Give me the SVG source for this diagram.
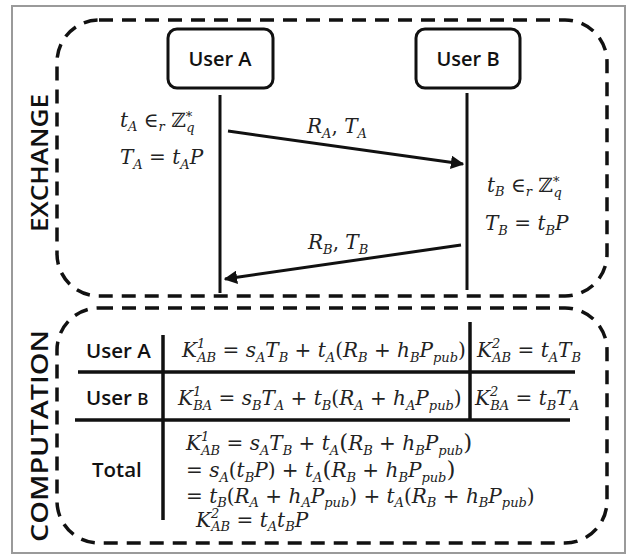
<svg xmlns="http://www.w3.org/2000/svg" width="632" height="560" viewBox="0 0 632 560">
<style>
.frame{fill:#fff;stroke:#9a9a9a;stroke-width:2}
.dash{fill:none;stroke:#111;stroke-width:3.5;stroke-dasharray:14 9}
.box{fill:#fff;stroke:#111;stroke-width:3}
.line{stroke:#111;stroke-width:3;fill:none}
.tbl{stroke:#111;stroke-width:3.5;fill:none}
.lbl{font-family:"Open Sans","Liberation Sans",sans-serif;font-weight:600;fill:#111}
.vt{font-family:"Open Sans","Liberation Sans",sans-serif;font-weight:600;fill:#111;font-size:24px}
.m{font-family:"DejaVu Serif","Liberation Serif",serif;font-style:italic;fill:#222;font-size:20px}
.n{font-style:normal}
.s{font-size:13px}
</style>
<defs>
<marker id="ah" viewBox="0 0 10 10" refX="9" refY="5" markerWidth="4.5" markerHeight="4.5" orient="auto" markerUnits="strokeWidth">
<path d="M0,0 L10,5 L0,10 z" fill="#111"/>
</marker>
</defs>
<rect class="frame" x="12" y="6" width="613" height="547"/>

<g id="exchange">
<rect class="dash" x="57" y="20" width="550" height="276" rx="42"/>
<text class="vt" transform="translate(48,163) rotate(-90)" text-anchor="middle" textLength="138" lengthAdjust="spacingAndGlyphs">EXCHANGE</text>
</g>

<g id="userA">
<rect class="box" x="168" y="29" width="105" height="59" rx="9"/>
<text class="lbl" x="220" y="66" font-size="20" text-anchor="middle">User A</text>
</g>
<g id="userB">
<rect class="box" x="416" y="29" width="104" height="59" rx="9"/>
<text class="lbl" x="468" y="66" font-size="20" text-anchor="middle">User B</text>
</g>

<g id="textA">
<text class="m" x="120" y="127" font-size="16">t<tspan class="s" font-size="11" dy="4">A</tspan><tspan class="n" dy="-4"> ∈</tspan><tspan class="s" font-size="11" dy="4">r</tspan><tspan class="n" dy="-4"> ℤ</tspan><tspan class="s" font-size="11" dy="-6">*</tspan><tspan class="s" font-size="11" dx="-6" dy="11">q</tspan></text>
<text class="m" x="120" y="164">T<tspan class="s" dy="5">A</tspan><tspan class="n" dy="-5"> = </tspan>t<tspan class="s" dy="5">A</tspan><tspan dy="-5">P</tspan></text>
</g>
<g id="textB">
<text class="m" x="487" y="192" font-size="16">t<tspan class="s" font-size="11" dy="4">B</tspan><tspan class="n" dy="-4"> ∈</tspan><tspan class="s" font-size="11" dy="4">r</tspan><tspan class="n" dy="-4"> ℤ</tspan><tspan class="s" font-size="11" dy="-6">*</tspan><tspan class="s" font-size="11" dx="-6" dy="11">q</tspan></text>
<text class="m" x="485" y="230">T<tspan class="s" dy="5">B</tspan><tspan class="n" dy="-5"> = </tspan>t<tspan class="s" dy="5">B</tspan><tspan dy="-5">P</tspan></text>
</g>

<g id="connectors">
<line class="line" x1="220" y1="95" x2="220" y2="293"/>
<line class="line" x1="467" y1="93" x2="467" y2="290"/>
<line class="line" x1="228" y1="131" x2="463" y2="164" marker-end="url(#ah)"/>
<line class="line" x1="461" y1="245" x2="225" y2="279" marker-end="url(#ah)"/>
<text class="m" x="307" y="133">R<tspan class="s" dy="5">A</tspan><tspan class="n" dy="-5">, </tspan>T<tspan class="s" dy="5">A</tspan></text>
<text class="m" x="308" y="249">R<tspan class="s" dy="5">B</tspan><tspan class="n" dy="-5">, </tspan>T<tspan class="s" dy="5">B</tspan></text>
</g>

<g id="computation">
<rect class="dash" x="57" y="308" width="550" height="235" rx="42"/>
<text class="vt" transform="translate(48,436) rotate(-90)" text-anchor="middle" textLength="212" lengthAdjust="spacingAndGlyphs">COMPUTATION</text>
</g>

<g id="table">
<line class="tbl" x1="163" y1="335" x2="163" y2="520"/>
<line class="tbl" x1="470" y1="322" x2="470" y2="420"/>
<line class="tbl" x1="78" y1="372" x2="575" y2="372"/>
<line class="tbl" x1="75" y1="420" x2="570" y2="420"/>
<text class="lbl" x="86" y="358" font-size="20.5">User A</text>
<text class="lbl" x="86" y="405" font-size="20.5">User <tspan font-size="17">B</tspan></text>
<text class="lbl" x="92" y="477" font-size="20.5">Total</text>

<text class="m" x="182" y="357">K<tspan class="s" dy="-9">1</tspan><tspan class="s" dx="-8" dy="14">AB</tspan><tspan class="n" dy="-5"> = </tspan>s<tspan class="s" dy="5">A</tspan><tspan dy="-5">T</tspan><tspan class="s" dy="5">B</tspan><tspan class="n" dy="-5"> + </tspan>t<tspan class="s" dy="5">A</tspan><tspan class="n" dy="-5">(</tspan>R<tspan class="s" dy="5">B</tspan><tspan class="n" dy="-5"> + </tspan>h<tspan class="s" dy="5">B</tspan><tspan dy="-5">P</tspan><tspan class="s" dy="5">pub</tspan><tspan class="n" dy="-5">)</tspan></text>
<text class="m" x="477" y="357">K<tspan class="s" dy="-9">2</tspan><tspan class="s" dx="-8" dy="14">AB</tspan><tspan class="n" dy="-5"> = </tspan>t<tspan class="s" dy="5">A</tspan><tspan dy="-5">T</tspan><tspan class="s" dy="5">B</tspan></text>

<text class="m" x="178" y="405">K<tspan class="s" dy="-9">1</tspan><tspan class="s" dx="-8" dy="14">BA</tspan><tspan class="n" dy="-5"> = </tspan>s<tspan class="s" dy="5">B</tspan><tspan dy="-5">T</tspan><tspan class="s" dy="5">A</tspan><tspan class="n" dy="-5"> + </tspan>t<tspan class="s" dy="5">B</tspan><tspan class="n" dy="-5">(</tspan>R<tspan class="s" dy="5">A</tspan><tspan class="n" dy="-5"> + </tspan>h<tspan class="s" dy="5">A</tspan><tspan dy="-5">P</tspan><tspan class="s" dy="5">pub</tspan><tspan class="n" dy="-5">)</tspan></text>
<text class="m" x="475" y="405">K<tspan class="s" dy="-9">2</tspan><tspan class="s" dx="-8" dy="14">BA</tspan><tspan class="n" dy="-5"> = </tspan>t<tspan class="s" dy="5">B</tspan><tspan dy="-5">T</tspan><tspan class="s" dy="5">A</tspan></text>

<text class="m" x="186" y="450">K<tspan class="s" dy="-9">1</tspan><tspan class="s" dx="-8" dy="14">AB</tspan><tspan class="n" dy="-5"> = </tspan>s<tspan class="s" dy="5">A</tspan><tspan dy="-5">T</tspan><tspan class="s" dy="5">B</tspan><tspan class="n" dy="-5"> + </tspan>t<tspan class="s" dy="5">A</tspan><tspan class="n" dy="-5" font-size="23">(</tspan>R<tspan class="s" dy="5">B</tspan><tspan class="n" dy="-5"> + </tspan>h<tspan class="s" dy="5">B</tspan><tspan dy="-5">P</tspan><tspan class="s" dy="5">pub</tspan><tspan class="n" dy="-5" font-size="23">)</tspan></text>
<text class="m" x="186" y="477"><tspan class="n">= </tspan>s<tspan class="s" dy="5">A</tspan><tspan class="n" dy="-5">(</tspan>t<tspan class="s" dy="5">B</tspan><tspan dy="-5">P</tspan><tspan class="n">) + </tspan>t<tspan class="s" dy="5">A</tspan><tspan class="n" dy="-5" font-size="23">(</tspan>R<tspan class="s" dy="5">B</tspan><tspan class="n" dy="-5"> + </tspan>h<tspan class="s" dy="5">B</tspan><tspan dy="-5">P</tspan><tspan class="s" dy="5">pub</tspan><tspan class="n" dy="-5" font-size="23">)</tspan></text>
<text class="m" x="186" y="503"><tspan class="n">= </tspan>t<tspan class="s" dy="4">B</tspan><tspan class="n" dy="-4">(</tspan>R<tspan class="s" dy="4">A</tspan><tspan class="n" dy="-4"> + </tspan>h<tspan class="s" dy="4">A</tspan><tspan dy="-4">P</tspan><tspan class="s" dy="4">pub</tspan><tspan class="n" dy="-4">) + </tspan>t<tspan class="s" dy="4">A</tspan><tspan class="n" dy="-4">(</tspan>R<tspan class="s" dy="4">B</tspan><tspan class="n" dy="-4"> + </tspan>h<tspan class="s" dy="4">B</tspan><tspan dy="-4">P</tspan><tspan class="s" dy="4">pub</tspan><tspan class="n" dy="-4">)</tspan></text>
<text class="m" x="196" y="527">K<tspan class="s" dy="-9">2</tspan><tspan class="s" dx="-8" dy="13">AB</tspan><tspan class="n" dy="-4"> = </tspan>t<tspan class="s" dy="4">A</tspan><tspan dy="-4">t</tspan><tspan class="s" dy="4">B</tspan><tspan dy="-4">P</tspan></text>
</g>
</svg>
